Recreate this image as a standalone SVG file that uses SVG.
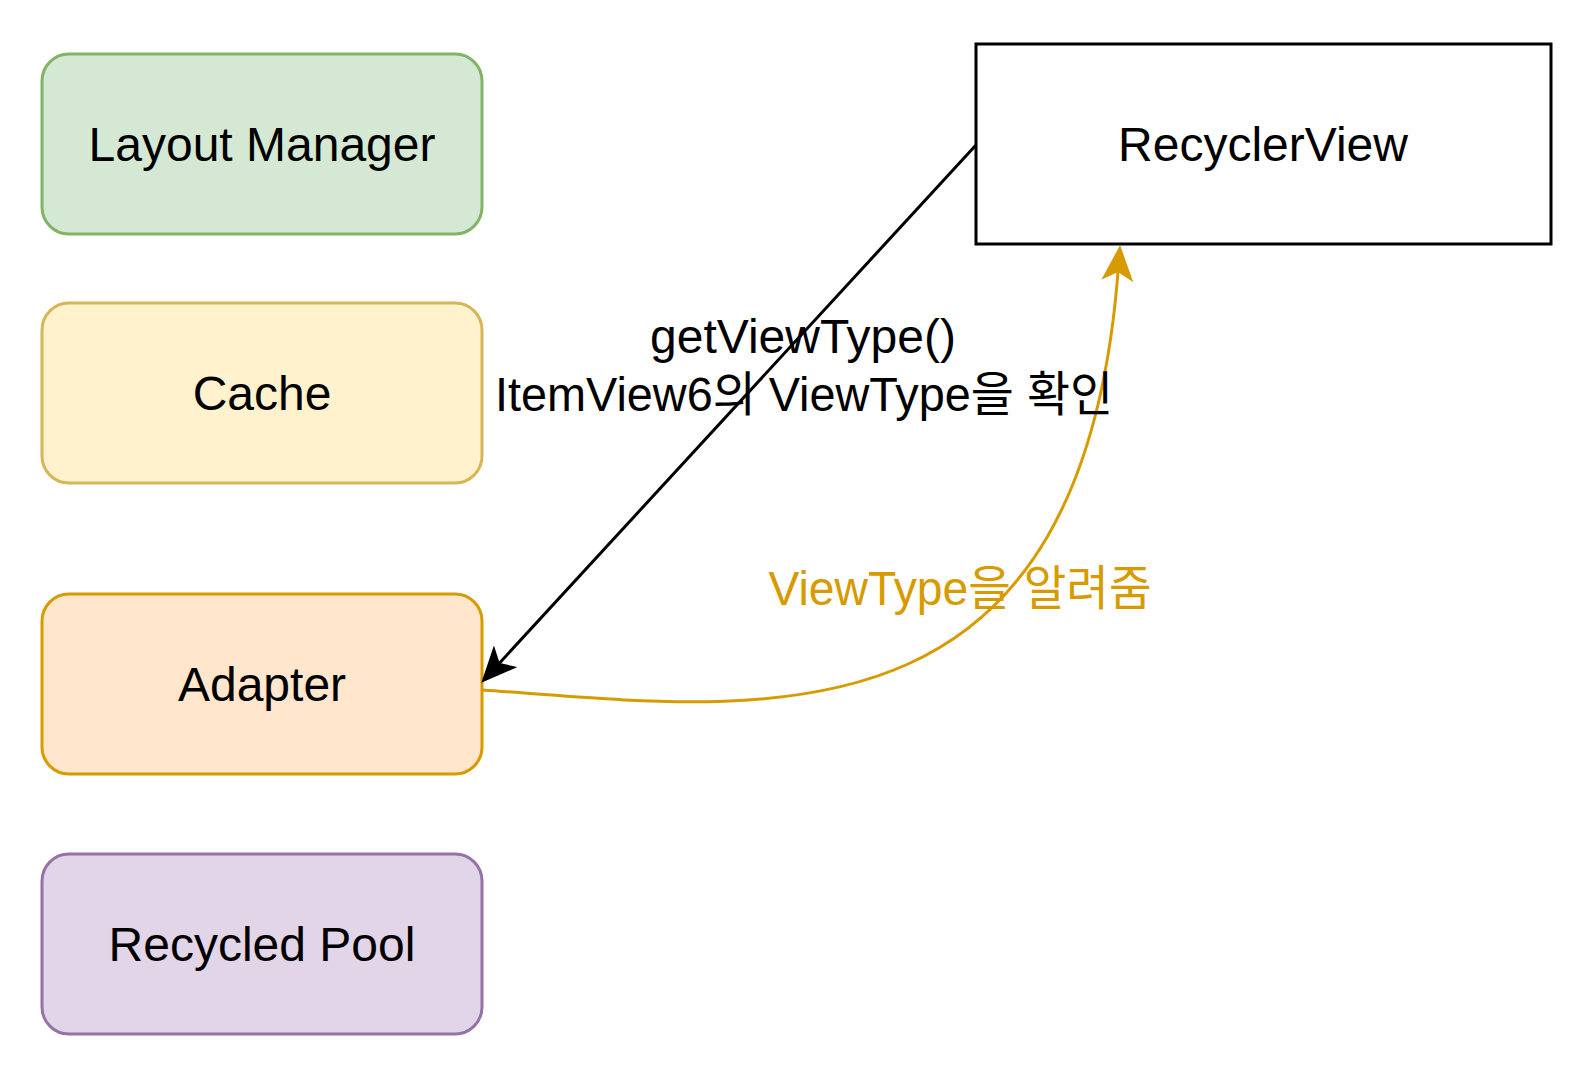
<svg xmlns="http://www.w3.org/2000/svg" width="1596" height="1076" viewBox="0 0 1596 1076">
<style>
.t{font-family:"Liberation Sans","Noto Sans CJK KR",Arial,sans-serif;font-size:48px;text-anchor:middle;fill:#000}
.n{stroke-width:3}
.e{fill:none;stroke-width:3}
</style>
<defs>
<marker id="ab" markerUnits="userSpaceOnUse" markerWidth="37" markerHeight="32" viewBox="0 0 37 32" refX="9" refY="16" orient="auto">
<path d="M36,16 L0,0 L9,16 L0,32 Z" fill="#000"/>
</marker>
<marker id="ao" markerUnits="userSpaceOnUse" markerWidth="37" markerHeight="32" viewBox="0 0 37 32" refX="9" refY="16" orient="auto">
<path d="M36,16 L0,0 L9,16 L0,32 Z" fill="#d79b00"/>
</marker>
</defs>
<rect width="1596" height="1076" fill="#fff"/>
<g id="layout-manager">
<rect class="n" x="42" y="54" width="440" height="180" rx="27" fill="#d5e8d4" stroke="#82b366"/>
<text class="t" x="262" y="161">Layout Manager</text>
</g>
<g id="cache">
<rect class="n" x="42" y="303" width="440" height="180" rx="27" fill="#fff2cc" stroke="#d6b656"/>
<text class="t" x="262" y="410">Cache</text>
</g>
<g id="adapter">
<rect class="n" x="42" y="594" width="440" height="180" rx="27" fill="#ffe6cc" stroke="#d79b00"/>
<text class="t" x="262" y="701">Adapter</text>
</g>
<g id="recycled-pool">
<rect class="n" x="42" y="854" width="440" height="180" rx="27" fill="#e1d5e7" stroke="#9673a6"/>
<text class="t" x="262" y="961">Recycled Pool</text>
</g>
<g id="recyclerview">
<rect class="n" x="976" y="44" width="575" height="200" fill="#fff" stroke="#000"/>
<text class="t" x="1263" y="161">RecyclerView</text>
</g>
<g id="connectors">
<path class="e" d="M976,145 L499.6,662.9" stroke="#000" marker-end="url(#ab)"/>
<path class="e" d="M483,690 C760,710 1080,760 1118,272" stroke="#d79b00" marker-end="url(#ao)"/>
<text class="t" x="803" y="353">getViewType()</text>
<text class="t" x="804" y="411" textLength="618" lengthAdjust="spacingAndGlyphs">ItemView6의 ViewType을 확인</text>
<text class="t" x="960" y="605" textLength="383" lengthAdjust="spacingAndGlyphs" style="fill:#d79b00">ViewType을 알려줌</text>
</g>
</svg>
